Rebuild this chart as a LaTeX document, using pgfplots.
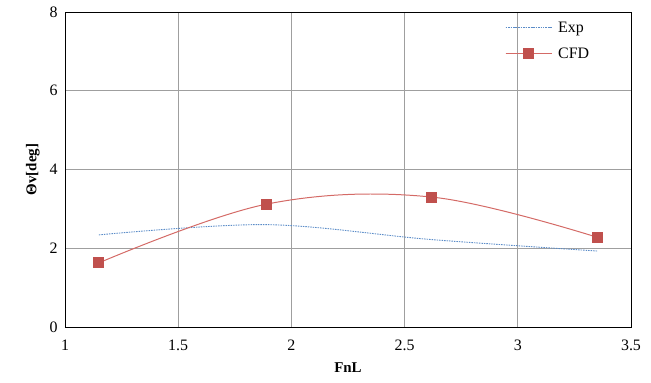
\documentclass[border=0pt]{standalone}
\usepackage{pgfplots}
\pgfplotsset{compat=1.18}
\usepackage{fontspec}
\setmainfont{Liberation Serif}
\definecolor{cfd}{HTML}{C0504D}
\definecolor{cfdline}{HTML}{D46A66}
\definecolor{expc}{HTML}{5B8CC8}
\begin{document}
\begin{tikzpicture}
\useasboundingbox (-65bp,-56bp) rectangle (586bp,327bp);
\begin{axis}[
  at={(0bp,0bp)}, anchor=south west,
  scale only axis,
  width=566bp, height=315bp,
  xmin=1, xmax=3.5, ymin=0, ymax=8,
  xtick={1,1.5,...,3.5}, ytick={0,2,4,6,8},
  xticklabels={1,1.5,2,2.5,3,3.5},
  grid=major,
  major grid style={draw=gray!75, line width=0.9pt},
  major tick length=0pt,
  axis line style={black, line width=0.9pt},
  tick label style={font=\fontsize{16}{18}\selectfont},
  xticklabel style={yshift=-9bp},
  yticklabel style={xshift=-4bp},
  /pgf/number format/assume math mode=true,
  xlabel={\textbf{FnL}},
  ylabel={\textbf{Θv[deg]}},
  label style={font=\fontsize{15}{18}\selectfont},
  xlabel style={yshift=-6bp},
  ylabel style={yshift=3bp},
  legend style={draw=none, fill=none, at={(0.772,0.982)}, anchor=north west,
    font=\fontsize{16}{18}\selectfont, row sep=10bp,
    nodes={inner xsep=2bp}},
  legend cell align=left,
  legend image code/.code={\draw[#1] (0bp,0bp) -- (46bp,0bp); \path[#1,mark repeat=2,mark phase=2] plot coordinates {(0bp,0bp) (23bp,0bp) (46bp,0bp)}; \path (50bp,0bp);},
]
\addplot[expc, line width=0.9pt, dash pattern=on 1.5pt off 1pt, smooth, tension=0.55] coordinates {
(1.15,2.34) (1.89,2.60) (2.62,2.22) (3.35,1.93)};
\addlegendentry{Exp}
\addplot[cfdline, line width=1pt, smooth, tension=0.6, mark=square*, mark size=5bp, mark options={fill=cfd, draw=cfd, solid}] coordinates {
(1.15,1.63) (1.89,3.12) (2.62,3.30) (3.35,2.28)};
\addlegendentry{CFD}
\end{axis}
\end{tikzpicture}
\end{document}
